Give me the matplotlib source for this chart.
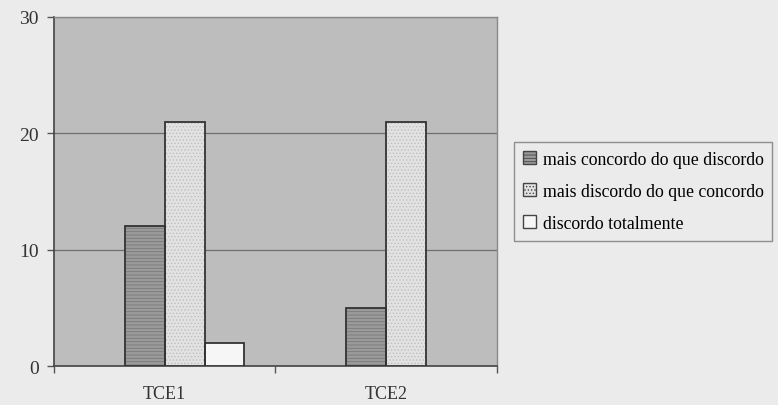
import matplotlib
matplotlib.use('Agg')
import matplotlib.pyplot as plt
import numpy as np

categories = ["TCE1", "TCE2"]
series_names = ["mais concordo do que discordo",
                "mais discordo do que concordo",
                "discordo totalmente"]
values = [
    [12, 5],
    [21, 21],
    [2, 0],
]
y_ticks = [0, 10, 20, 30]

plt.rcParams['font.family'] = ['Liberation Serif', 'DejaVu Serif']
plt.rcParams['hatch.linewidth'] = 0.6

fig = plt.figure(figsize=(7.78, 4.06), dpi=100)
fig.patch.set_facecolor('#ebebeb')
ax = fig.add_axes([0.0694, 0.096, 0.5694, 0.8597])
ax.set_facecolor('#bdbdbd')

faces = ['#9a9a9a', '#e2e2e2', '#f6f6f6']
hatches = ['-----', '.....', None]
hatch_cols = ['#7a7a7a', '#bdbdbd', '#f6f6f6']

x = np.arange(len(categories))
width = 0.18
shift = 0.09
for i, (name, vals) in enumerate(zip(series_names, values)):
    pos = x + shift + (i - 1) * width
    ax.bar(pos, vals, width, color=faces[i], edgecolor=hatch_cols[i],
           hatch=hatches[i], linewidth=0, zorder=3, label=name)
    # outline drawn separately so hatch colour can differ from edge
    keep = np.array(vals) > 0
    ax.bar(pos[keep], np.array(vals)[keep], width, color='none',
           edgecolor='#333333', linewidth=1.3, zorder=4)

ax.set_xlim(-0.5, 1.5)
ax.set_ylim(0, 30)
ax.set_yticks(y_ticks)
ax.set_yticklabels([str(v) for v in y_ticks], fontsize=14, color='#333333')
ax.grid(True, axis='y', color='#6e6e6e', linewidth=0.9, zorder=1)
ax.set_axisbelow(True)

ax.set_xticks(x)
ax.set_xticklabels(categories, fontsize=13, color='#333333')
ax.tick_params(axis='x', length=0, pad=14)
ax.set_xticks([-0.5, 0.5, 1.5], minor=True)
ax.tick_params(axis='x', which='minor', length=5, width=1, color='#555555')
ax.tick_params(axis='y', length=5, width=1, color='#555555', pad=6)

for side in ['left', 'bottom']:
    ax.spines[side].set_color('#444444')
    ax.spines[side].set_linewidth(1.2)
for side in ['top', 'right']:
    ax.spines[side].set_color('#8a8a8a')
    ax.spines[side].set_linewidth(1.0)

handles, labels = ax.get_legend_handles_labels()
leg = fig.legend(handles, labels, loc='upper left',
                 bbox_to_anchor=(0.661, 0.648), fontsize=12.8,
                 frameon=True, fancybox=False, handlelength=0.75,
                 handleheight=0.75, handletextpad=0.35, labelspacing=0.85,
                 borderpad=0.5, borderaxespad=0)
leg.get_frame().set_facecolor('#ececec')
leg.get_frame().set_edgecolor('#777777')
leg.get_frame().set_linewidth(1.0)
for h in leg.legend_handles:
    h.set_edgecolor('#444444')
    h.set_linewidth(1.0)

plt.savefig('out.png', dpi=100, facecolor=fig.get_facecolor())
